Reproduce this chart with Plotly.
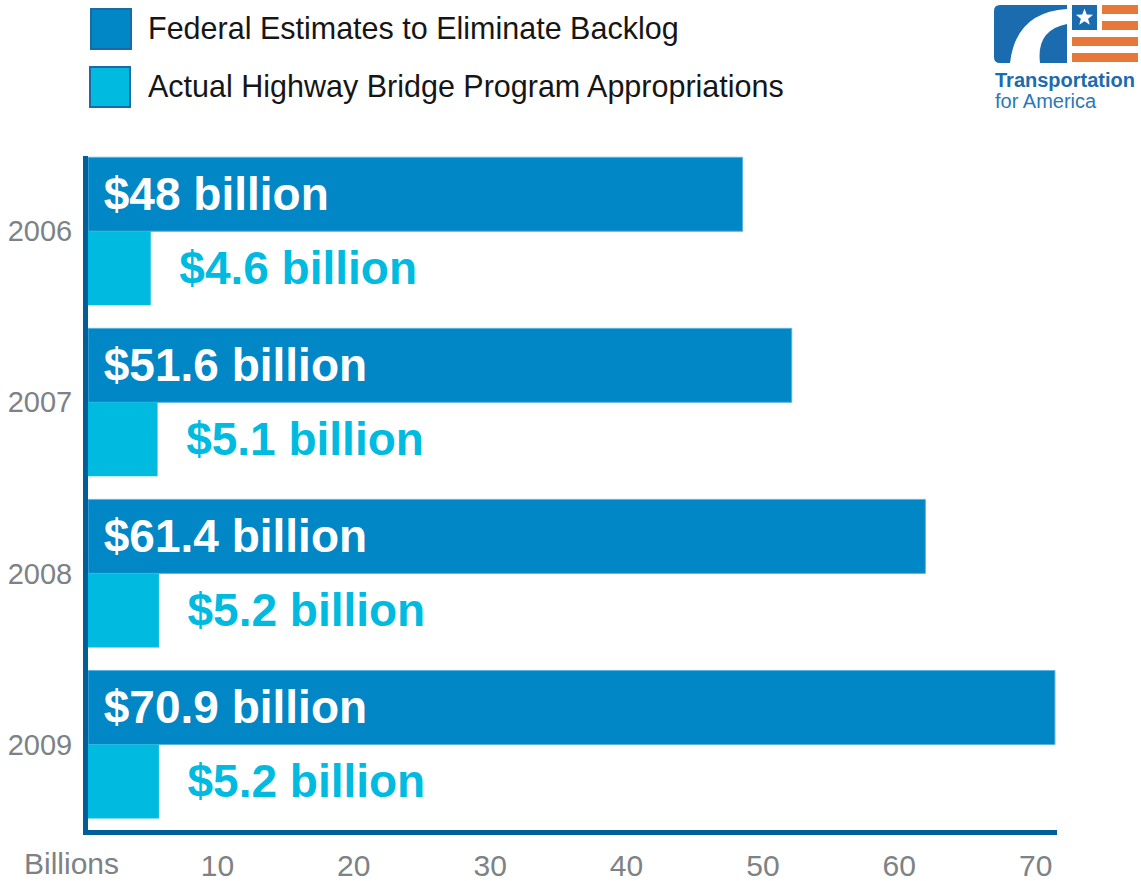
import math
import plotly.graph_objects as go

# ---- data ----
years = ["2006", "2007", "2008", "2009"]
federal_estimates = [48, 51.6, 61.4, 70.9]
actual_appropriations = [4.6, 5.1, 5.2, 5.2]
series_names = ["Federal Estimates to Eliminate Backlog",
                "Actual Highway Bridge Program Appropriations"]
x_ticks = [10, 20, 30, 40, 50, 60, 70]
x_axis_title = "Billions"

# ---- styling ----
W, H = 1141, 881
PLOT_L, PLOT_R, PLOT_T, PLOT_B = 88, 1057, 156, 830   # screen pixels
L, T = PLOT_L, PLOT_T
R, B = W - PLOT_R, H - PLOT_B
DARK = "#0287c6"
CYAN = "#00bbdf"
AXIS = "#005f98"
GRAY = "#7d8285"
FONT = "Liberation Sans"
NB = "\u00a0"

PW = PLOT_R - PLOT_L
PH = PLOT_B - PLOT_T


def px(x):
    return (x - PLOT_L) / PW


def py(y):
    return (PLOT_B - y) / PH


def label(v):
    return f"${v:g} billion"


fig = go.Figure()
fig.add_trace(go.Bar(
    y=years, x=federal_estimates, orientation="h", name=series_names[0],
    marker=dict(color=DARK, line=dict(color="#5ab4e2", width=1)),
    text=[NB + label(v) for v in federal_estimates],
    textposition="inside", insidetextanchor="start", constraintext="none",
    textfont=dict(family=FONT, size=46, color="white", weight="bold"),
    showlegend=False,
))
fig.add_trace(go.Bar(
    y=years, x=actual_appropriations, orientation="h", name=series_names[1],
    marker=dict(color=CYAN, line=dict(width=0)),
    text=[NB + NB + label(v) for v in actual_appropriations],
    textposition="outside", constraintext="none", cliponaxis=False,
    textfont=dict(family=FONT, size=46, color=CYAN, weight="bold"),
    showlegend=False,
))

shapes = []
annotations = []

# custom legend
legend_boxes = [(91, 9, 131, 49, DARK), (90, 67, 130, 107, CYAN)]
for (x0, y0, x1, y1, col), name in zip(legend_boxes, series_names):
    shapes.append(dict(type="rect", xref="paper", yref="paper",
                       x0=px(x0), x1=px(x1), y0=py(y1), y1=py(y0),
                       fillcolor=col, line=dict(color="#1b6aa5", width=2)))
    annotations.append(dict(text=name, xref="paper", yref="paper",
                            x=px(146), y=py((y0 + y1) / 2), xanchor="left",
                            yanchor="middle", showarrow=False,
                            font=dict(family=FONT, size=30.5, color="#161616")))

# "Billions" label
annotations.append(dict(text=x_axis_title, xref="paper", yref="paper",
                        x=px(71), y=py(881), xanchor="center", yanchor="bottom",
                        borderpad=0, showarrow=False,
                        font=dict(family=FONT, size=30, color=GRAY)))


# logo
def path(points, close=True):
    s = ""
    for p in points:
        if isinstance(p, str):
            s += p + " "
        else:
            s += f"{px(p[0]):.5f},{py(p[1]):.5f} "
    return s + ("Z" if close else "")


LOGO_BLUE = "#1b6cae"
ORANGE = "#e8783a"
shapes.append(dict(type="path", xref="paper", yref="paper",
                   path=path(["M", (1000, 5), "L", (1067, 5), "L", (1067, 63),
                              "L", (1000, 63), "Q", (994, 63), (994, 57),
                              "L", (994, 11), "Q", (994, 5), (1000, 5)]),
                   fillcolor=LOGO_BLUE, line=dict(width=0)))
shapes.append(dict(type="path", xref="paper", yref="paper",
                   path=path(["M", (1010, 63), "Q", (1016, 12), (1067, 9),
                              "L", (1067, 24), "Q", (1036, 30), (1040, 63)]),
                   fillcolor="white", line=dict(width=0)))
shapes.append(dict(type="rect", xref="paper", yref="paper",
                   x0=px(1072), x1=px(1097), y0=py(30), y1=py(5),
                   fillcolor=LOGO_BLUE, line=dict(width=0)))
star = []
cx, cy = 1084.5, 17.5
for k in range(10):
    r = 9 if k % 2 == 0 else 3.8
    a = -math.pi / 2 + k * math.pi / 5
    star += ["M" if k == 0 else "L", (cx + r * math.cos(a), cy + r * math.sin(a))]
shapes.append(dict(type="path", xref="paper", yref="paper", path=path(star),
                   fillcolor="white", line=dict(width=0)))
for (x0, y0, x1, y1) in [(1102, 5, 1138, 14), (1102, 21, 1138, 30),
                         (1072, 37, 1138, 46), (1072, 53, 1138, 62)]:
    shapes.append(dict(type="rect", xref="paper", yref="paper",
                       x0=px(x0), x1=px(x1), y0=py(y1), y1=py(y0),
                       fillcolor=ORANGE, line=dict(width=0)))
annotations.append(dict(text="Transportation", xref="paper", yref="paper",
                        x=px(993), y=py(80), xanchor="left", yanchor="middle",
                        showarrow=False,
                        font=dict(family=FONT, size=20, color=LOGO_BLUE, weight="bold")))
annotations.append(dict(text="for America", xref="paper", yref="paper",
                        x=px(993), y=py(101), xanchor="left", yanchor="middle",
                        showarrow=False,
                        font=dict(family=FONT, size=20, color="#2a78b8")))

fig.update_layout(
    width=W, height=H,
    margin=dict(l=L, r=R, t=T, b=B, pad=0, autoexpand=False),
    paper_bgcolor="white", plot_bgcolor="white",
    barmode="group", bargap=0.135, bargroupgap=0,
    shapes=shapes, annotations=annotations,
    xaxis=dict(range=[0, 71.05], tickvals=x_ticks, showgrid=False, zeroline=False,
               showline=True, linecolor=AXIS, linewidth=5, ticks="",
               automargin=False, ticklabelshift=-7, ticklabelstandoff=5,
               tickfont=dict(family=FONT, size=30, color=GRAY)),
    yaxis=dict(type="category", range=[3.5, -0.44], autorange=False, showgrid=False,
               zeroline=False, showline=True, linecolor=AXIS, linewidth=5, ticks="",
               automargin=False, ticklabelstandoff=5,
               tickfont=dict(family=FONT, size=29, color=GRAY)),
)

fig.write_html("out.html", config={"displayModeBar": False},
               post_script="document.body.style.margin='0px';"
                           "document.body.style.overflow='hidden';")
